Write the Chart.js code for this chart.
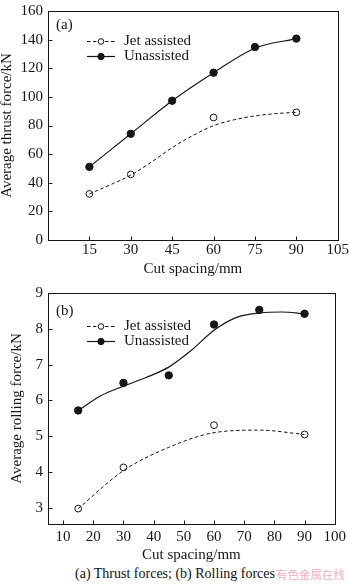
<!DOCTYPE html>
<html>
<head>
<meta charset="utf-8">
<script src="https://cdn.jsdelivr.net/npm/chart.js@4.4.1/dist/chart.umd.min.js"></script>
<style>
  html, body { margin: 0; padding: 0; background: #fff; }
  body { width: 350px; height: 584px; position: relative; overflow: hidden; font-family: "Liberation Serif", serif; }
  .panel { position: absolute; left: 0; width: 350px; }
  #wrapA { top: 0; height: 282px; }
  #wrapB { top: 282px; height: 281px; }
  #caption { position: absolute; left: 0; width: 350px; top: 565px; text-align: center; font-size: 14px; line-height: 18px; color: #111; }
  #mark { position: absolute; left: 276px; top: 566px; white-space: nowrap; font-family: "Noto Sans CJK SC", sans-serif; font-size: 11.5px; line-height: 16px; color: rgba(236, 150, 165, 0.75); }
</style>
</head>
<body>
<div class="panel" id="wrapA"><canvas id="thrust"></canvas></div>
<div class="panel" id="wrapB"><canvas id="rolling"></canvas></div>
<div id="caption">(a) Thrust forces; (b) Rolling forces</div>
<div id="mark">有色金属在线</div>
<script>
// cut spacing (mm) where forces were measured
const cutSpacing = [15, 30, 45, 60, 75, 90];
const jetSpacing = [15, 30, 60, 90];
// spacing used to trace the fitted curves
const fitSpacing = [15, 22.5, 30, 37.5, 45, 52.5, 60, 67.5, 75, 82.5, 90];

// (a) average thrust force, kN
const thrustUnassisted = [51.1, 74.2, 97.3, 116.9, 134.8, 140.7];
const thrustJet = [32.2, 45.8, 85.6, 89.2];
const thrustUnassistedFit = [51.1, 74.2, 97.3, 116.9, 134.0, 140.7];
const thrustJetFit = [32.2, 38.5, 45.3, 54.5, 64.5, 73.0, 79.9, 84.0, 86.7, 88.3, 89.2];

// (b) average rolling force, kN
const rollingUnassisted = [5.72, 6.49, 6.70, 8.12, 8.53, 8.42];
const rollingJet = [2.98, 4.13, 5.31, 5.05];
const rollingUnassistedFit = [5.72, 6.13, 6.40, 6.64, 6.93, 7.40, 7.96, 8.32, 8.44, 8.47, 8.42];
const rollingJetFit = [2.98, 4.04, 4.69, 5.10, 5.17, 5.05];

// axis ticks
const xTicksA = [15, 30, 45, 60, 75, 90, 105];
const yTicksA = [0, 20, 40, 60, 80, 100, 120, 140, 160];
const xTicksB = [10, 20, 30, 40, 50, 60, 70, 80, 90, 100];
const yTicksB = [3, 4, 5, 6, 7, 8, 9];

const legendLabels = ["Jet assisted", "Unassisted"];

const ink = "#161616";
const serif = "'Liberation Serif', 'Times New Roman', serif";
Chart.defaults.font.family = serif;
Chart.defaults.font.size = 15;
Chart.defaults.color = ink;

const pts = (xs, ys) => xs.map((x, i) => ({ x: x, y: ys[i] }));

// box round the plot, inward tick marks, panel tag and legend
const frame = {
  id: "frame",
  afterDraw(chart, args, opts) {
    const ctx = chart.ctx;
    const a = chart.chartArea;
    const L = Math.round(a.left) + 0.5, R = Math.round(a.right) + 0.5;
    const T = Math.round(a.top) + 0.5, B = Math.round(a.bottom) + 0.5;
    ctx.save();
    ctx.strokeStyle = ink;
    ctx.lineWidth = 1;
    ctx.strokeRect(L, T, R - L, B - T);

    ctx.beginPath();
    chart.scales.x.ticks.forEach((t) => {
      const px = Math.round(chart.scales.x.getPixelForValue(t.value)) + 0.5;
      ctx.moveTo(px, B);
      ctx.lineTo(px, B - 4);
    });
    chart.scales.y.ticks.forEach((t) => {
      const py = Math.round(chart.scales.y.getPixelForValue(t.value)) + 0.5;
      ctx.moveTo(L, py);
      ctx.lineTo(L + 4, py);
    });
    ctx.stroke();

    ctx.fillStyle = ink;
    ctx.font = "15px " + serif;
    ctx.textBaseline = "middle";
    ctx.fillText(opts.tag, opts.tagX, opts.tagY);

    opts.items.forEach((it, i) => {
      const y = Math.round(opts.y + i * opts.gap) + 0.5;
      ctx.lineWidth = it.width;
      ctx.setLineDash(it.dash);
      ctx.beginPath();
      ctx.moveTo(opts.x, y);
      ctx.lineTo(opts.x + 28, y);
      ctx.stroke();
      ctx.setLineDash([]);
      ctx.lineWidth = 1;
      ctx.beginPath();
      ctx.arc(opts.x + 14, y, it.r, 0, Math.PI * 2);
      ctx.fillStyle = it.fill;
      ctx.fill();
      ctx.stroke();
      ctx.fillStyle = ink;
      ctx.fillText(legendLabels[i], opts.x + 37, y);
    });
    ctx.restore();
  },
};

const legendItems = [
  { dash: [3.5, 2.5], width: 1, r: 2.8, fill: "#fff" },
  { dash: [], width: 1.2, r: 3.2, fill: ink },
];

function makeChart(el, p) {
  return new Chart(el, {
    type: "line",
    data: {
      datasets: [
        { data: p.jetFit, borderColor: ink, borderWidth: 1, borderDash: [3.5, 2.5], pointRadius: 0, cubicInterpolationMode: "monotone", fill: false },
        { data: p.unFit, borderColor: ink, borderWidth: 1.2, pointRadius: 0, cubicInterpolationMode: "monotone", fill: false },
        { data: p.jet, showLine: false, pointRadius: 3.4, pointBorderWidth: 1, pointBorderColor: ink, pointBackgroundColor: "#fff" },
        { data: p.un, showLine: false, pointRadius: 3.7, pointBorderWidth: 1, pointBorderColor: ink, pointBackgroundColor: ink },
      ],
    },
    options: {
      responsive: true,
      maintainAspectRatio: false,
      animation: false,
      events: [],
      layout: { padding: { left: 0, right: 11, top: p.padTop, bottom: 0 } },
      plugins: {
        legend: { display: false },
        tooltip: { enabled: false },
        frame: { tag: p.tag, tagX: 56, tagY: p.tagY, x: 87, y: p.legY, gap: p.legGap, items: legendItems },
      },
      scales: {
        x: {
          type: "linear",
          min: p.xMin,
          max: p.xMax,
          grid: { display: false, drawTicks: false },
          border: { display: false },
          ticks: { padding: p.xPad, maxRotation: 0, autoSkip: false },
          afterBuildTicks: (s) => { s.ticks = p.xTicks.map((v) => ({ value: v })); },
          afterFit: (s) => { s.height = p.xHeight; },
          title: { display: true, text: "Cut spacing/mm", font: { size: 15, lineHeight: 1 }, padding: { top: 0, bottom: p.xTitlePad } },
        },
        y: {
          min: p.yMin,
          max: p.yMax,
          grid: { display: false, drawTicks: false },
          border: { display: false },
          ticks: { padding: 5, font: { lineHeight: 0.8 } },
          afterBuildTicks: (s) => { s.ticks = p.yTicks.map((v) => ({ value: v })); },
          afterFit: (s) => { s.width = 48; },
          title: { display: true, text: p.yTitle, font: { size: 15, lineHeight: 1 }, padding: { top: p.yTitlePad, bottom: 0 } },
        },
      },
    },
    plugins: [frame],
  });
}

makeChart(document.getElementById("thrust"), {
  tag: "(a)", tagY: 25, legY: 41, legGap: 14.5,
  jet: pts(jetSpacing, thrustJet),
  un: pts(cutSpacing, thrustUnassisted),
  jetFit: pts(fitSpacing, thrustJetFit),
  unFit: pts(cutSpacing, thrustUnassistedFit),
  xMin: 0, xMax: 105, xTicks: xTicksA, xPad: 1, xHeight: 42, xTitlePad: 5.5,
  yMin: 0, yMax: 160, yTicks: yTicksA, yTitle: "Average thrust force/kN", yTitlePad: 0,
  padTop: 5,
});

makeChart(document.getElementById("rolling"), {
  tag: "(b)", tagY: 29, legY: 44, legGap: 15,
  jet: pts(jetSpacing, rollingJet),
  un: pts(cutSpacing, rollingUnassisted),
  jetFit: pts(cutSpacing, rollingJetFit),
  unFit: pts(fitSpacing, rollingUnassistedFit),
  xMin: 5, xMax: 100, xTicks: xTicksB, xPad: 4, xHeight: 39, xTitlePad: 0.5,
  yMin: 2.55, yMax: 9, yTicks: yTicksB, yTitle: "Average rolling force/kN", yTitlePad: 10,
  padTop: 9.5,
});
</script>
</body>
</html>
